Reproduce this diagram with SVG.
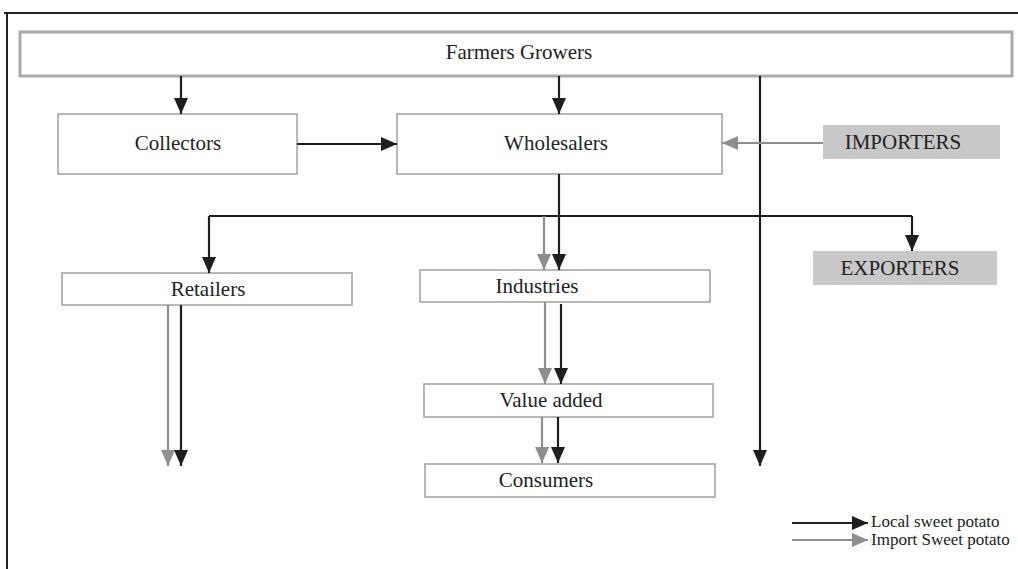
<svg xmlns="http://www.w3.org/2000/svg" width="1018" height="569" viewBox="0 0 1018 569">
<style>
.box{fill:#fff;stroke:#a0a0a0;stroke-width:1.5}
.gbox{fill:#c8c8c8;stroke:none}
.lbl{font-family:"Liberation Serif","Times New Roman",serif;font-size:21px;fill:#222;text-anchor:middle}
.leg{font-family:"Liberation Serif","Times New Roman",serif;font-size:17px;fill:#222}
.k{stroke:#1e1e1e;stroke-width:2.2;fill:none}
.ka{stroke:#1e1e1e;stroke-width:2.2;fill:none;marker-end:url(#ak)}
.ga{stroke:#8e8e8e;stroke-width:2.2;fill:none;marker-end:url(#ag)}
</style>
<defs>
<marker id="ak" markerUnits="userSpaceOnUse" markerWidth="16" markerHeight="14" viewBox="0 0 16 14" refX="16" refY="7" orient="auto"><path d="M0,0 L16,7 L0,14 Z" fill="#1e1e1e"/></marker>
<marker id="ag" markerUnits="userSpaceOnUse" markerWidth="16" markerHeight="14" viewBox="0 0 16 14" refX="16" refY="7" orient="auto"><path d="M0,0 L16,7 L0,14 Z" fill="#8e8e8e"/></marker>
</defs>
<rect width="1018" height="569" fill="#fff"/>
<g id="frame"><path d="M4,13 H1018 M7,13 V569" stroke="#222" stroke-width="2" fill="none"/></g>
<g id="farmers"><rect x="20" y="32" width="992" height="44" fill="#fff" stroke="#aaa" stroke-width="3"/><text class="lbl" x="519" y="59">Farmers Growers</text></g>
<g id="collectors"><rect class="box" x="58" y="114" width="239" height="60"/><text class="lbl" x="178" y="150">Collectors</text></g>
<g id="wholesalers"><rect class="box" x="397" y="114" width="325" height="60"/><text class="lbl" x="556" y="150">Wholesalers</text></g>
<g id="importers"><rect class="gbox" x="823" y="125" width="177" height="34"/><text class="lbl" x="903" y="149">IMPORTERS</text></g>
<g id="exporters"><rect class="gbox" x="813" y="251" width="184" height="34"/><text class="lbl" x="900" y="275">EXPORTERS</text></g>
<g id="retailers"><rect class="box" x="62" y="273" width="290" height="32"/><text class="lbl" x="208" y="296">Retailers</text></g>
<g id="industries"><rect class="box" x="420" y="270" width="290" height="32"/><text class="lbl" x="537" y="293">Industries</text></g>
<g id="valueadded"><rect class="box" x="424" y="384" width="289" height="33"/><text class="lbl" x="551" y="407">Value added</text></g>
<g id="consumers"><rect class="box" x="425" y="464" width="290" height="33"/><text class="lbl" x="546" y="487">Consumers</text></g>
<g id="connectors">
<path class="ka" d="M181,76 V114"/>
<path class="ka" d="M559,76 V114"/>
<path class="ka" d="M760,76 V466"/>
<path class="ka" d="M297,144 H397"/>
<path class="ga" d="M823,143 H722"/>
<path class="k" d="M209,216 H912"/>
<path class="ka" d="M209,216 V273"/>
<path class="ka" d="M912,216 V251"/>
<path class="ga" d="M544,216 V270"/>
<path class="ka" d="M559,174 V270"/>
<path class="ga" d="M168,305 V466"/>
<path class="ka" d="M181,305 V466"/>
<path class="ga" d="M545,302 V384"/>
<path class="ka" d="M561,304 V384"/>
<path class="ga" d="M542,417 V463"/>
<path class="ka" d="M558,417 V463"/>
</g>
<g id="legend">
<path class="ka" d="M792,523 H868"/>
<path class="ga" d="M792,540 H868"/>
<text class="leg" x="871" y="527">Local sweet potato</text>
<text class="leg" x="871" y="545">Import Sweet potato</text>
</g>
</svg>
